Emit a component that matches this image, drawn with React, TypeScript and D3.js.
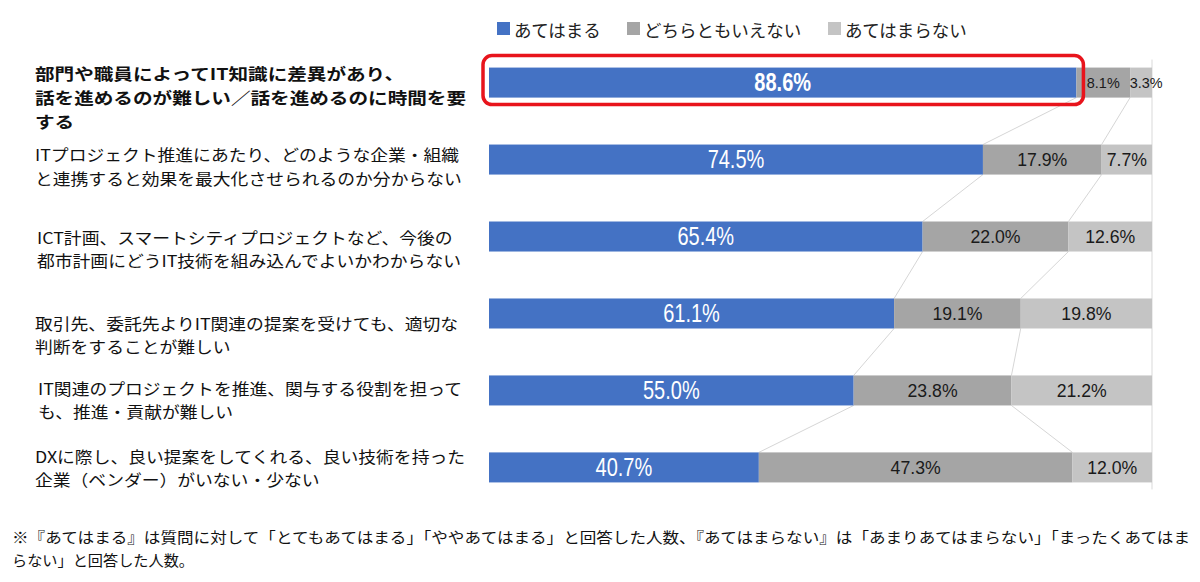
import React from 'react';
import * as d3 from 'd3';

const categories: string[][] = [
  ['部門や職員によってIT知識に差異があり、', '話を進めるのが難しい／話を進めるのに時間を要', 'する'],
  ['ITプロジェクト推進にあたり、どのような企業・組織', 'と連携すると効果を最大化させられるのか分からない'],
  ['ICT計画、スマートシティプロジェクトなど、今後の', '都市計画にどうIT技術を組み込んでよいかわからない'],
  ['取引先、委託先よりIT関連の提案を受けても、適切な', '判断をすることが難しい'],
  ['IT関連のプロジェクトを推進、関与する役割を担って', 'も、推進・貢献が難しい'],
  ['DXに際し、良い提案をしてくれる、良い技術を持った', '企業（ベンダー）がいない・少ない'],
];
const seriesNames = ['あてはまる', 'どちらともいえない', 'あてはまらない'];
const agree = [88.6, 74.5, 65.4, 61.1, 55.0, 40.7];
const neutral = [8.1, 17.9, 22.0, 19.1, 23.8, 47.3];
const disagree = [3.3, 7.7, 12.6, 19.8, 21.2, 12.0];
const footnoteLines = [
  '※『あてはまる』は質問に対して「とてもあてはまる」「ややあてはまる」と回答した人数、『あてはまらない』は「あまりあてはまらない」「まったくあてはま',
  'らない」と回答した人数。',
];

// layout-only constants
const colors = ['#4472C4', '#A5A5A5', '#C4C4C4'];
const labelNudgeY = [-10, -5.5, 0, 9, -3, -12];
const labelNudgeX = [0, 0, 2, 0, 3, 0];
const JP = '"Noto Sans CJK JP", "Noto Sans", sans-serif';
const NUM = '"Liberation Sans", Arial, sans-serif';

export default function App() {
  const W = 1200, H = 582;
  const ids = categories.map((_, i) => String(i));
  const y = d3.scaleBand<string>().domain(ids).range([44.1, 505.9]).paddingInner(0.61).paddingOuter(0.305);
  const x = d3.scaleLinear().domain([0, 100]).range([489, 1152]);
  const bw = y.bandwidth();

  const rows = ids.map((id, i) => {
    const vals = [agree[i], neutral[i], disagree[i]];
    let c = 0;
    const segs = vals.map((v, k) => {
      const s = { k, v, x0: x(c), x1: x(Math.min(c + v, 100)) };
      c += v;
      return s;
    });
    return { id, i, segs, cum: [agree[i], agree[i] + neutral[i]] };
  });

  const seriesLines: JSX.Element[] = [];
  for (let i = 0; i < rows.length - 1; i++) {
    for (let k = 0; k < 2; k++) {
      seriesLines.push(
        <line key={`sl${i}-${k}`} x1={x(rows[i].cum[k])} y1={(y(rows[i].id) as number) + bw}
          x2={x(rows[i + 1].cum[k])} y2={y(rows[i + 1].id) as number}
          stroke="#d6d6d6" strokeWidth={1} />
      );
    }
  }

  const legendX = [497, 627, 828];

  return (
    <svg width={W} height={H} style={{ position: 'absolute', left: 0, top: 0, background: '#fff' }}>
      <rect x={0} y={0} width={W} height={H} fill="#fff" />
      {/* legend */}
      {seriesNames.map((n, k) => (
        <g key={n}>
          <rect x={legendX[k]} y={22} width={13} height={13} fill={colors[k]} />
          <text x={legendX[k] + 17} y={29} dominantBaseline="central" fontFamily={JP} fontSize={17.5} fill="#222">{n}</text>
        </g>
      ))}
      {/* right gridline */}
      <line x1={x(100)} x2={x(100)} y1={(y('0') as number) - 8} y2={(y(String(rows.length - 1)) as number) + bw + 7} stroke="#d9d9d9" strokeWidth={1} />
      {seriesLines}
      {/* bars */}
      {rows.map((r) => (
        <g key={r.id}>
          {r.segs.map((s) => (
            <rect key={s.k} x={s.x0} y={y(r.id)} width={s.x1 - s.x0} height={bw} fill={colors[s.k]} />
          ))}
          {r.segs.map((s) => {
            const cx = (s.x0 + s.x1) / 2;
            const cy = (y(r.id) as number) + bw / 2;
            const big = s.k === 0;
            const fs = big ? 25 : r.i === 0 ? 15.5 : 19;
            const sx = big ? 0.8 : 0.93;
            return (
              <text key={`t${s.k}`} transform={`translate(${cx + (r.i === 0 && s.k === 2 ? 5 : 0)},${cy}) scale(${sx},1)`}
                textAnchor="middle" dominantBaseline="central" fontFamily={NUM}
                fontSize={fs} fontWeight={big && r.i === 0 ? 'bold' : 'normal'}
                fill={big ? '#fff' : '#1a1a1a'}>
                {s.v.toFixed(1)}%
              </text>
            );
          })}
        </g>
      ))}
      {/* highlight box */}
      <rect x={x(0) - 6} y={(y('0') as number) - 12} width={x(agree[0]) - x(0) + 13} height={bw + 19}
        rx={9} fill="none" stroke="#E8141C" strokeWidth={3.5} />
      {/* category labels */}
      {rows.map((r) => {
        const cy = (y(r.id) as number) + bw / 2;
        const first = r.i === 0;
        const lh = first ? 24 : 23.4;
        const fs = first ? 16.4 : 16;
        const sx = first ? 19.6 / 16.4 : 17.8 / 16;
        return (
          <g key={`c${r.id}`}>
            {categories[r.i].map((ln, j) => (
              <text key={j} transform={`translate(${35 + labelNudgeX[r.i]},${cy + labelNudgeY[r.i] + j * lh}) scale(${sx},1)`}
                dominantBaseline="central" fontFamily={JP} fontSize={fs}
                fontWeight={first ? 'bold' : 'normal'} fill="#111">{ln}</text>
            ))}
          </g>
        );
      })}
      {/* footnote */}
      {footnoteLines.map((ln, j) => (
        <text key={`f${j}`} x={12} y={536 + j * 22.5} dominantBaseline="central" fontFamily={JP} fontSize={15.2}
          fill="#111" textLength={j === 0 ? 1178 : 182} lengthAdjust="spacingAndGlyphs">{ln}</text>
      ))}
    </svg>
  );
}
